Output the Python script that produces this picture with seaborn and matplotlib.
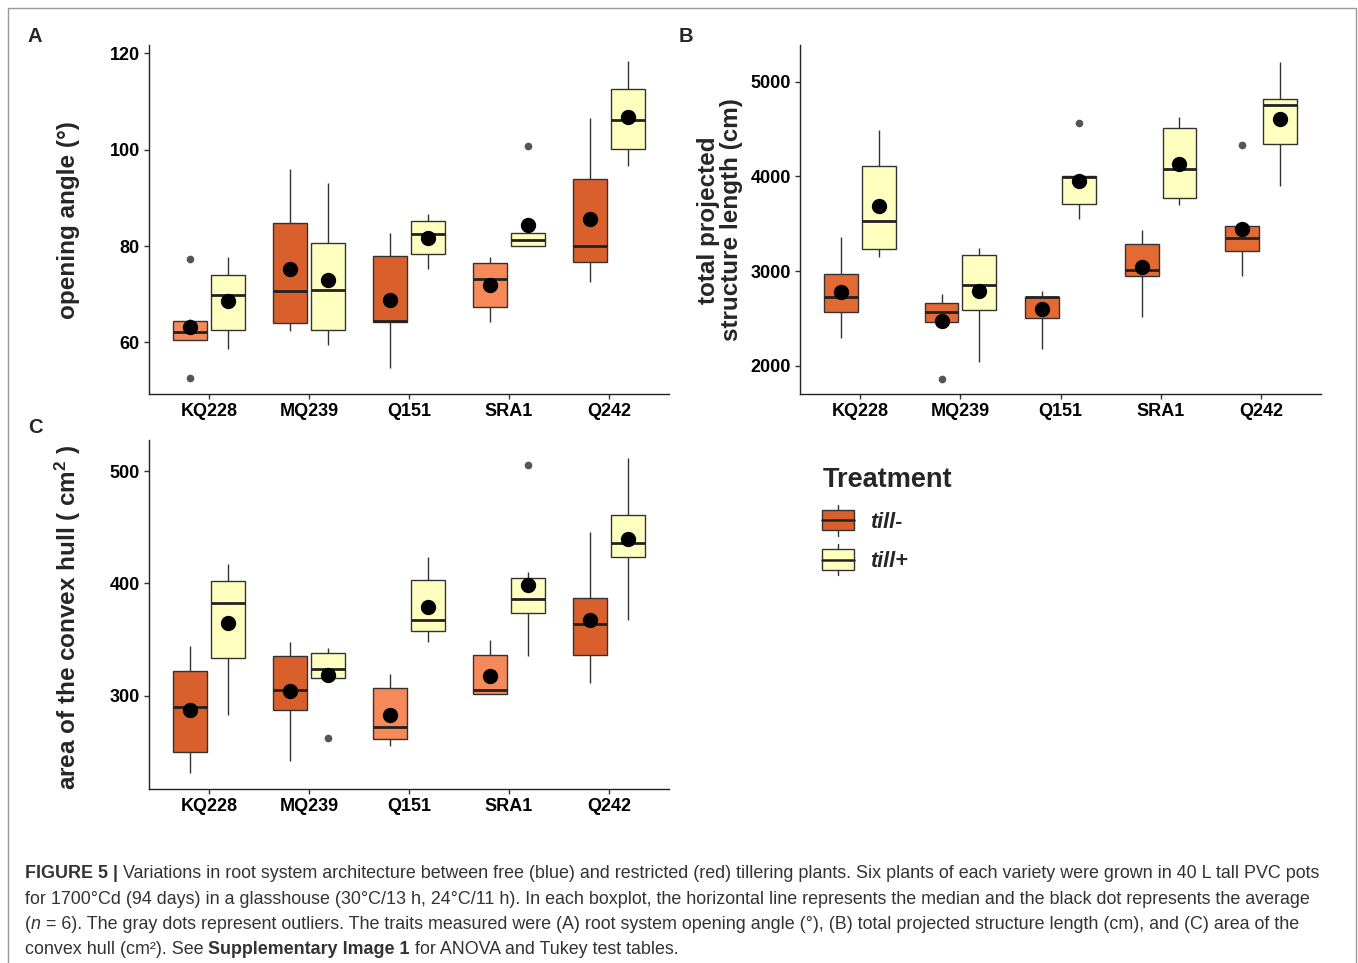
import numpy as np
import pandas as pd
import matplotlib
matplotlib.use("Agg")
import matplotlib.pyplot as plt
import seaborn as sns
from matplotlib.patches import Rectangle, Patch
from matplotlib.lines import Line2D
from matplotlib.legend_handler import HandlerBase

# ---------------- data (six plants per variety and treatment) ----------------
varieties = ["KQ228", "MQ239", "Q151", "SRA1", "Q242"]
treatments = ["till-", "till+"]

angle_minus = [
    [52.7, 60.4, 61.0, 63.4, 64.9, 77.4],
    [62.4, 63.3, 66.5, 74.9, 88.2, 95.9],
    [54.7, 64.3, 64.3, 64.7, 82.2, 82.6],
    [64.3, 65.6, 72.8, 73.4, 77.6, 77.8],
    [72.6, 75.5, 79.9, 79.9, 98.5, 106.6],
]
angle_plus = [
    [58.6, 61.2, 66.8, 72.8, 74.5, 77.7],
    [59.5, 61.0, 67.4, 74.4, 82.7, 93.0],
    [75.3, 77.3, 81.7, 83.1, 85.9, 86.7],
    [80.0, 80.0, 80.4, 82.0, 82.9, 100.7],
    [96.6, 98.8, 104.4, 107.8, 114.3, 118.3],
]
length_minus = [
    [2292, 2517, 2700, 2756, 3036, 3361],
    [1863, 2450, 2478, 2648, 2665, 2756],
    [2176, 2432, 2717, 2725, 2730, 2791],
    [2517, 2940, 2980, 3032, 3363, 3431],
    [2943, 3180, 3285, 3417, 3493, 4332],
]
length_plus = [
    [3147, 3180, 3384, 3668, 4253, 4494],
    [2039, 2551, 2696, 3000, 3230, 3240],
    [3551, 3618, 3982, 4000, 4010, 4567],
    [3692, 3740, 3884, 4274, 4589, 4631],
    [3903, 4205, 4740, 4760, 4841, 5211],
]
hull_minus = [
    [230.7, 236.0, 289.6, 290.8, 331.8, 344.3],
    [242.0, 282.3, 302.0, 307.0, 345.0, 348.0],
    [255.1, 258.0, 271.2, 273.4, 318.0, 319.0],
    [301.0, 301.3, 302.0, 307.0, 346.1, 349.4],
    [311.0, 327.0, 363.0, 363.8, 394.7, 446.1],
]
hull_plus = [
    [283.0, 320.0, 372.0, 392.2, 404.9, 417.3],
    [262.5, 315.0, 317.0, 330.0, 340.8, 342.3],
    [347.3, 354.0, 367.6, 367.6, 415.2, 423.5],
    [334.8, 369.4, 384.6, 386.8, 410.4, 505.4],
    [367.5, 419.0, 435.8, 436.2, 468.9, 512.0],
]

ylabels = ["opening angle (°)", "total projected\nstructure length (cm)",
           "area of the convex hull ( cm$^{2}$ )"]
yticks = [[60, 80, 100, 120], [2000, 3000, 4000, 5000], [300, 400, 500]]

# ---------------- styling ----------------
W, H = 1358, 963
C_LIGHT = "#F5895A"
C_DARK = "#D9602C"
C_MED = "#E46A33"
C_PLUS = "#FFFFC0"
EDGE = "#333333"
minus_shades = [
    [C_LIGHT, C_DARK, C_DARK, C_LIGHT, C_DARK],
    [C_MED, C_MED, C_MED, C_MED, C_MED],
    [C_DARK, C_DARK, C_LIGHT, C_LIGHT, C_DARK],
]

sns.set_theme(style="ticks")
plt.rcParams["font.family"] = ["Liberation Sans", "DejaVu Sans"]
plt.rcParams["mathtext.default"] = "regular"


def make_df(minus, plus):
    rows = []
    for vi, v in enumerate(varieties):
        for val in minus[vi]:
            rows.append((v, "till-", val))
        for val in plus[vi]:
            rows.append((v, "till+", val))
    return pd.DataFrame(rows, columns=["variety", "treatment", "value"])


frames = [make_df(angle_minus, angle_plus),
          make_df(length_minus, length_plus),
          make_df(hull_minus, hull_plus)]

fig = plt.figure(figsize=(W / 100, H / 100), dpi=100)
fig.patch.set_facecolor("white")


def px_axes(left, top, right, bottom):
    return fig.add_axes([left / W, 1 - bottom / H, (right - left) / W, (bottom - top) / H])


axes = [px_axes(149, 45, 669, 394), px_axes(800, 45, 1321, 394), px_axes(149, 440, 669, 789)]
ylims = [(49.3, 121.7), (1701, 5387), (216.7, 527.7)]

for k, (ax, df) in enumerate(zip(axes, frames)):
    sns.boxplot(data=df, x="variety", y="value", hue="treatment", order=varieties,
                hue_order=treatments, palette=[C_DARK, C_PLUS], width=0.75, gap=0.1,
                linewidth=1.0, linecolor=EDGE, whis=1.5, fliersize=4.5,
                flierprops=dict(marker="o", markerfacecolor="#555555", markeredgecolor="#555555"),
                medianprops=dict(color="#222222", linewidth=2.0),
                capprops=dict(linewidth=0),
                legend=False, ax=ax)
    # recolour the till- boxes with their shade
    for p in ax.patches:
        xs = p.get_path().vertices[:, 0]
        cx = (xs.min() + xs.max()) / 2
        idx = int(round(cx))
        if cx < idx:
            p.set_facecolor(minus_shades[k][idx])
        else:
            p.set_facecolor(C_PLUS)
        p.set_edgecolor(EDGE)
    sns.pointplot(data=df, x="variety", y="value", hue="treatment", order=varieties,
                  hue_order=treatments, estimator="mean", errorbar=None, dodge=0.375,
                  linestyle="none", markers="o", palette=["black", "black"],
                  markersize=9, legend=False, ax=ax, zorder=10)
    ax.set_xlim(-0.6, 4.6)
    ax.set_ylim(*ylims[k])
    ax.set_yticks(yticks[k])
    ax.set_yticklabels([str(t) for t in yticks[k]])
    ax.set_xlabel("")
    ax.set_ylabel("")
    sns.despine(ax=ax)
    for s in ["left", "bottom"]:
        ax.spines[s].set_color("#222222")
        ax.spines[s].set_linewidth(1.0)
    ax.tick_params(axis="both", length=3.5, width=1.0, color="#333333", pad=3,
                   labelsize=13, labelcolor="black")
    for lab in ax.get_xticklabels() + ax.get_yticklabels():
        lab.set_fontweight("bold")
    ax.set_facecolor("white")

# y-axis titles
fig.text(68 / W, 1 - 220 / H, ylabels[0], rotation=90, ha="center", va="center",
         fontsize=17.5, fontweight="bold")
fig.text(720 / W, 1 - 220 / H, ylabels[1], rotation=90, ha="center", va="center",
         fontsize=17.5, fontweight="bold", linespacing=0.95, multialignment="center")
fig.text(68 / W, 1 - 617 / H, ylabels[2], rotation=90, ha="center", va="center",
         fontsize=17.5, fontweight="bold")

# panel letters
for lt, (x, y) in zip("ABC", [(35, 36), (686, 36), (35, 427)]):
    fig.text(x / W, 1 - y / H, lt, ha="center", va="center", fontsize=14.5, fontweight="bold")


# legend
class BoxHandler(HandlerBase):
    def create_artists(self, legend, orig_handle, xdescent, ydescent, width, height,
                       fontsize, trans):
        fc = orig_handle.get_facecolor()
        x0, y0 = -xdescent, -ydescent
        rect = Rectangle((x0, y0), width, height, facecolor=fc, edgecolor=EDGE,
                         lw=1.0, transform=trans)
        med = Line2D([x0, x0 + width], [y0 + height / 2] * 2, color="#222222", lw=1.8,
                     transform=trans)
        w1 = Line2D([x0 + width / 2] * 2, [y0 + height, y0 + height * 1.25], color=EDGE,
                    lw=1.0, transform=trans)
        w2 = Line2D([x0 + width / 2] * 2, [y0 - height * 0.25, y0], color=EDGE,
                    lw=1.0, transform=trans)
        return [w1, w2, rect, med]


handles = [Patch(facecolor=C_DARK), Patch(facecolor=C_PLUS)]
leg = fig.legend(handles, treatments, title="Treatment", loc="upper left",
                 bbox_to_anchor=(818 / W, 1 - 463 / H), frameon=False,
                 handler_map={Patch: BoxHandler()},
                 prop=dict(family="Liberation Sans", weight="bold", style="italic", size=15.5),
                 title_fontproperties=dict(family="Liberation Sans", weight="bold", size=19.5),
                 handlelength=1.45, handleheight=1.08, labelspacing=0.78, handletextpad=0.75,
                 alignment="left", borderaxespad=0, borderpad=0.2)

# caption
cap_lines = [
    [("FIGURE 5 |", "bold", "normal"),
     (" Variations in root system architecture between free (blue) and restricted (red) tillering plants. Six plants of each variety were grown in 40 L tall PVC pots", "normal", "normal")],
    [("for 1700°Cd (94 days) in a glasshouse (30°C/13 h, 24°C/11 h). In each boxplot, the horizontal line represents the median and the black dot represents the average", "normal", "normal")],
    [("(", "normal", "normal"), ("n", "normal", "italic"),
     (" = 6). The gray dots represent outliers. The traits measured were (A) root system opening angle (°), (B) total projected structure length (cm), and (C) area of the", "normal", "normal")],
    [("convex hull (cm²). See ", "normal", "normal"), ("Supplementary Image 1", "bold", "normal"),
     (" for ANOVA and Tukey test tables.", "normal", "normal")],
]
cap_y = [874, 899, 924, 949]
renderer = fig.canvas.get_renderer()
for segs, y in zip(cap_lines, cap_y):
    x = 25
    for txt, wt, st in segs:
        t = fig.text(x / W, 1 - y / H, txt, ha="left", va="center", fontsize=12.9,
                     fontweight=wt, fontstyle=st, color="#333333")
        bb = t.get_window_extent(renderer)
        x += bb.width

# frame around the figure
fig.patches.append(Rectangle((8 / W, -0.01), (1356 - 8) / W, 1 - 8 / H + 0.01,
                             transform=fig.transFigure, fill=False, edgecolor="#999999",
                             lw=1.0))

fig.savefig("out.png", dpi=100)
